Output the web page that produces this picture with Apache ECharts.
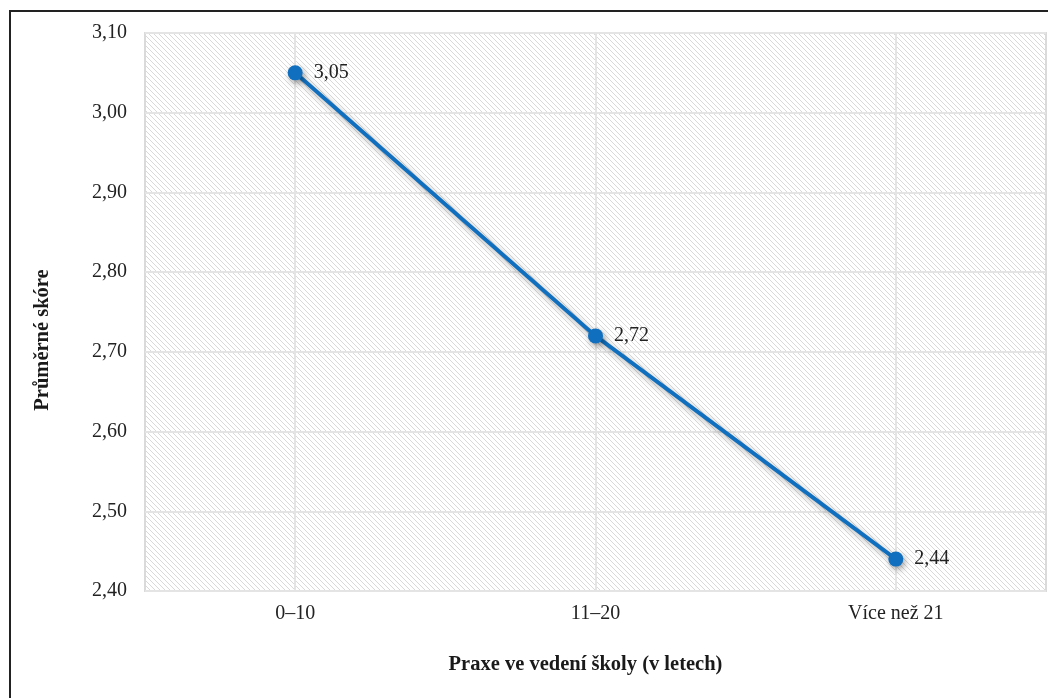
<!DOCTYPE html>
<html>
<head>
<meta charset="utf-8">
<script src="https://cdn.jsdelivr.net/npm/echarts@6/dist/echarts.min.js"></script>
<style>html,body{margin:0;padding:0;background:#fff;}#c{width:1048px;height:698px;}</style>
</head>
<body>
<div id="c"></div>
<script>
var categories = ['0–10', '11–20', 'Více než 21'];
var values = [3.05, 2.72, 2.44];
var yTicks = { min: 2.4, max: 3.1, interval: 0.1 };
var xTitle = 'Praxe ve vedení školy (v letech)';
var yTitle = 'Průměrné skóre';

function hatch() {
  var s = 5;
  var cv = document.createElement('canvas');
  cv.width = s; cv.height = s;
  var ctx = cv.getContext('2d');
  ctx.fillStyle = '#ffffff';
  ctx.fillRect(0, 0, s, s);
  ctx.strokeStyle = '#d9d9d9';
  ctx.lineWidth = 1;
  ctx.beginPath();
  ctx.moveTo(-1, -1); ctx.lineTo(s + 1, s + 1);
  ctx.moveTo(-1, s - 1); ctx.lineTo(1, s + 1);
  ctx.moveTo(s - 1, -1); ctx.lineTo(s + 1, 1);
  ctx.stroke();
  return cv;
}

var chart = echarts.init(document.getElementById('c'));
var font = '"Liberation Serif", "Times New Roman", serif';
chart.setOption({
  animation: false,
  textStyle: { fontFamily: font },
  graphic: [{
    type: 'rect', silent: true,
    shape: { x: 10, y: 11, width: 1200, height: 1000 },
    style: { fill: null, stroke: '#222', lineWidth: 2 }
  }],
  grid: {
    left: 145, right: 2, top: 33, bottom: 107,
    show: true,
    backgroundColor: { image: hatch(), repeat: 'repeat' },
    borderColor: '#dadada', borderWidth: 2
  },
  xAxis: {
    type: 'category',
    data: categories,
    boundaryGap: true,
    name: xTitle,
    nameLocation: 'middle',
    nameGap: 63,
    nameTextStyle: { fontFamily: font, fontWeight: 'bold', fontSize: 20.5, color: '#1a1a1a', padding: [0, 20, 0, 0] },
    axisLine: { show: false },
    axisTick: { show: false, alignWithLabel: true },
    axisLabel: { fontFamily: font, fontSize: 20, color: '#222', margin: 13 },
    splitLine: { show: true, alignWithLabel: true, lineStyle: { color: '#e4e4e4', width: 2 } }
  },
  yAxis: {
    type: 'value',
    min: yTicks.min, max: yTicks.max, interval: yTicks.interval,
    name: yTitle,
    nameLocation: 'middle',
    nameGap: 92,
    nameTextStyle: { fontFamily: font, fontWeight: 'bold', fontSize: 20.5, color: '#1a1a1a', padding: [0, 56, 0, 0] },
    axisLine: { show: false },
    axisTick: { show: false },
    axisLabel: {
      fontFamily: font, fontSize: 20, color: '#222', margin: 18,
      formatter: function (v) { return v.toFixed(2).replace('.', ','); }
    },
    splitLine: { show: true, lineStyle: { color: '#e4e4e4', width: 2 } }
  },
  series: [{
    type: 'line',
    data: values,
    symbol: 'circle',
    symbolSize: 15,
    lineStyle: { color: '#1070bf', width: 4, shadowColor: 'rgba(0,0,0,0.35)', shadowBlur: 6, shadowOffsetX: 2, shadowOffsetY: 3 },
    itemStyle: { color: '#1070bf', shadowColor: 'rgba(0,0,0,0.35)', shadowBlur: 6, shadowOffsetX: 2, shadowOffsetY: 3 },
    label: {
      show: true, position: 'right', distance: 11,
      fontFamily: font, fontSize: 20, color: '#222',
      formatter: function (p) { return p.value.toFixed(2).replace('.', ','); }
    }
  }]
});
</script>
</body>
</html>
